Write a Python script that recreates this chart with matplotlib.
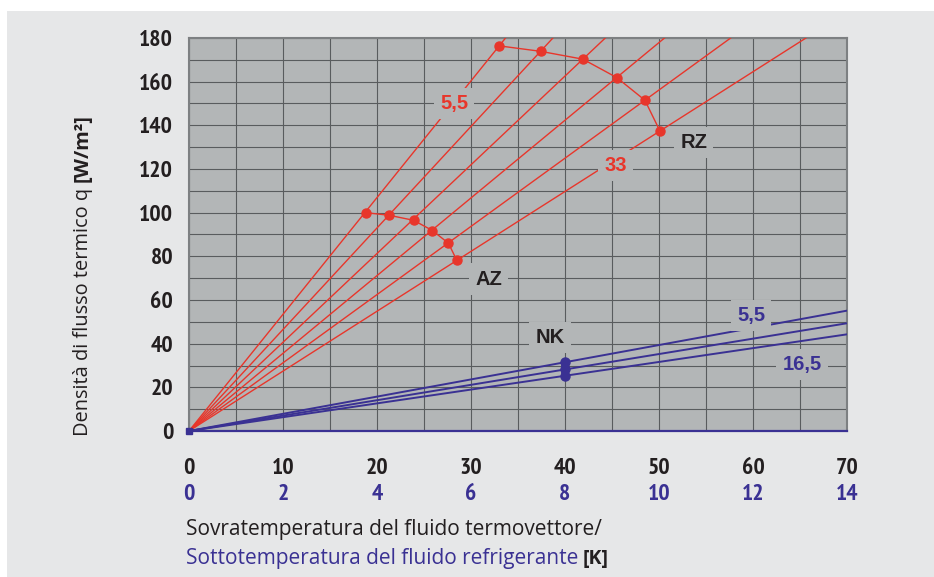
import matplotlib
matplotlib.use("Agg")
import matplotlib.pyplot as plt
from matplotlib.patches import Rectangle
from matplotlib.ticker import MultipleLocator

# ---------------- data ----------------
# red family (Sovratemperatura del fluido termovettore, K)
az_dt = [18.8, 21.3, 23.9, 25.9, 27.6, 28.5]
az_q = [100.0, 98.8, 96.5, 91.8, 86.0, 78.1]
rz_dt = [33.0, 37.4, 41.9, 45.5, 48.5, 50.1]
rz_q = [176.4, 173.9, 170.3, 161.9, 151.5, 137.4]
# blue family (Sottotemperatura del fluido refrigerante, K)
nk_dt = [8.0, 8.0, 8.0]
nk_q = [31.5, 28.2, 25.3]

x_ticks = [0, 10, 20, 30, 40, 50, 60, 70]
x2_ticks = [0, 2, 4, 6, 8, 10, 12, 14]
y_ticks = [0, 20, 40, 60, 80, 100, 120, 140, 160, 180]

RED = "#e8362b"
BLUE = "#3a3193"
BLACK = "#231f20"
PLOT_BG = "#b3b6b7"
PANEL = "#e6e7e8"
GRID = "#595c5e"

NARROW = ["PT Sans Narrow", "DejaVu Sans"]
WIDE = ["Liberation Sans", "DejaVu Sans"]
TITLE = ["Open Sans", "DejaVu Sans"]
TICK_FS = 17

fig = plt.figure(figsize=(9.34, 5.77), dpi=100)
fig.patch.set_facecolor("white")
fig.patches.append(Rectangle((7 / 934, 0), 1 - 7 / 934, 1 - 11 / 577,
                             transform=fig.transFigure, fc=PANEL, ec="none", zorder=-10))

ax = fig.add_axes([189 / 934, 1 - 431 / 577, 658 / 934, 393 / 577])
ax.set_facecolor(PLOT_BG)
ax.set_xlim(0, 70)
ax.set_ylim(0, 180)
ax.set_xticks(x_ticks)
ax.set_yticks(y_ticks)
ax.xaxis.set_minor_locator(MultipleLocator(5))
ax.yaxis.set_minor_locator(MultipleLocator(10))
ax.grid(True, which="both", color=GRID, lw=0.8, zorder=0)
ax.set_axisbelow(True)
ax.tick_params(which="both", length=0)
ax.tick_params(axis="x", pad=19.5, labelsize=TICK_FS, labelcolor=BLACK)
ax.tick_params(axis="y", pad=11.5, labelsize=TICK_FS, labelcolor=BLACK)
for lab in ax.get_xticklabels() + ax.get_yticklabels():
    lab.set_family(NARROW)
    lab.set_fontweight("bold")
for s in ["top", "left", "right"]:
    ax.spines[s].set_color("#7d8082")
    ax.spines[s].set_linewidth(1.5)
ax.spines["bottom"].set_color(BLUE)
ax.spines["bottom"].set_linewidth(1.6)

# red lines through origin
for dt, q in zip(rz_dt, rz_q):
    ax.axline((0, 0), (dt, q), color=RED, lw=1.0, zorder=3)
ax.plot(az_dt, az_q, color=RED, lw=1.0, marker="o", ms=6.5, zorder=4)
ax.plot(rz_dt, rz_q, color=RED, lw=1.0, marker="o", ms=6.5, zorder=4)

# blue family on a twin axis (0..14 K)
ax2 = ax.twiny()
ax2.set_xlim(0, 14)
ax2.set_ylim(0, 180)
ax2.set_xticks(x2_ticks)
ax2.xaxis.set_ticks_position("bottom")
ax2.xaxis.set_label_position("bottom")
ax2.spines["bottom"].set_position(("outward", 18.7))
for s in ax2.spines.values():
    s.set_visible(False)
ax2.tick_params(axis="x", length=0, pad=19.5, labelsize=TICK_FS, labelcolor=BLUE)
for lab in ax2.get_xticklabels():
    lab.set_family(NARROW)
    lab.set_fontweight("bold")

for dt, q in zip(nk_dt, nk_q):
    ax2.axline((0, 0), (dt, q), color=BLUE, lw=1.4, zorder=3)
ax2.plot(nk_dt, nk_q, color=BLUE, lw=5.5, marker="o", ms=6.5,
         solid_capstyle="round", zorder=4)
ax2.plot([0], [0], marker="s", ms=5, color=BLUE, clip_on=False, zorder=6)

# in-plot labels
def box_label(axis, x, y, txt, color):
    axis.text(x, y, txt, color=color, fontsize=14.5, fontweight="bold",
              family=WIDE, ha="center", va="center", zorder=5,
              bbox=dict(boxstyle="square,pad=0.3", fc=PLOT_BG, ec="none"))

box_label(ax, 28.2, 150.2, "5,5", RED)
box_label(ax, 45.4, 121.6, "33", RED)
box_label(ax, 53.7, 132.2, "RZ", BLACK)
box_label(ax, 31.9, 69.6, "AZ", BLACK)
box_label(ax, 38.4, 42.8, "NK", BLACK)
box_label(ax2, 11.96, 52.7, "5,5", BLUE)
box_label(ax2, 13.04, 30.5, "16,5", BLUE)

# axis titles
t1 = fig.text(88 / 934, 1 - 436 / 577, "Densità di flusso termico q", rotation=90,
              rotation_mode="anchor", ha="left", va="baseline",
              fontsize=14.4, family=TITLE, color=BLACK)
ax.annotate("[W/m²]", xy=(88 / 934, 1), xycoords=("figure fraction", t1),
            xytext=(0, 4), textcoords="offset points", rotation=90,
            rotation_mode="anchor", ha="left", va="baseline",
            fontsize=14.4, family=TITLE, fontweight="bold", color=BLACK,
            annotation_clip=False)

fig.text(186 / 934, 1 - 535 / 577, "Sovratemperatura del fluido termovettore/",
         ha="left", va="baseline", fontsize=15, family=TITLE, color=BLACK)
t2 = fig.text(186 / 934, 1 - 564 / 577, "Sottotemperatura del fluido refrigerante",
              ha="left", va="baseline", fontsize=15, family=TITLE, color=BLUE)
ax.annotate("[K]", xy=(1, 1 - 564 / 577), xycoords=(t2, "figure fraction"),
            xytext=(3, 0), textcoords="offset points", ha="left", va="baseline",
            fontsize=14, family=TITLE, fontweight="bold", color=BLACK,
            annotation_clip=False)

fig.savefig("out.png", dpi=100, facecolor=fig.get_facecolor())
